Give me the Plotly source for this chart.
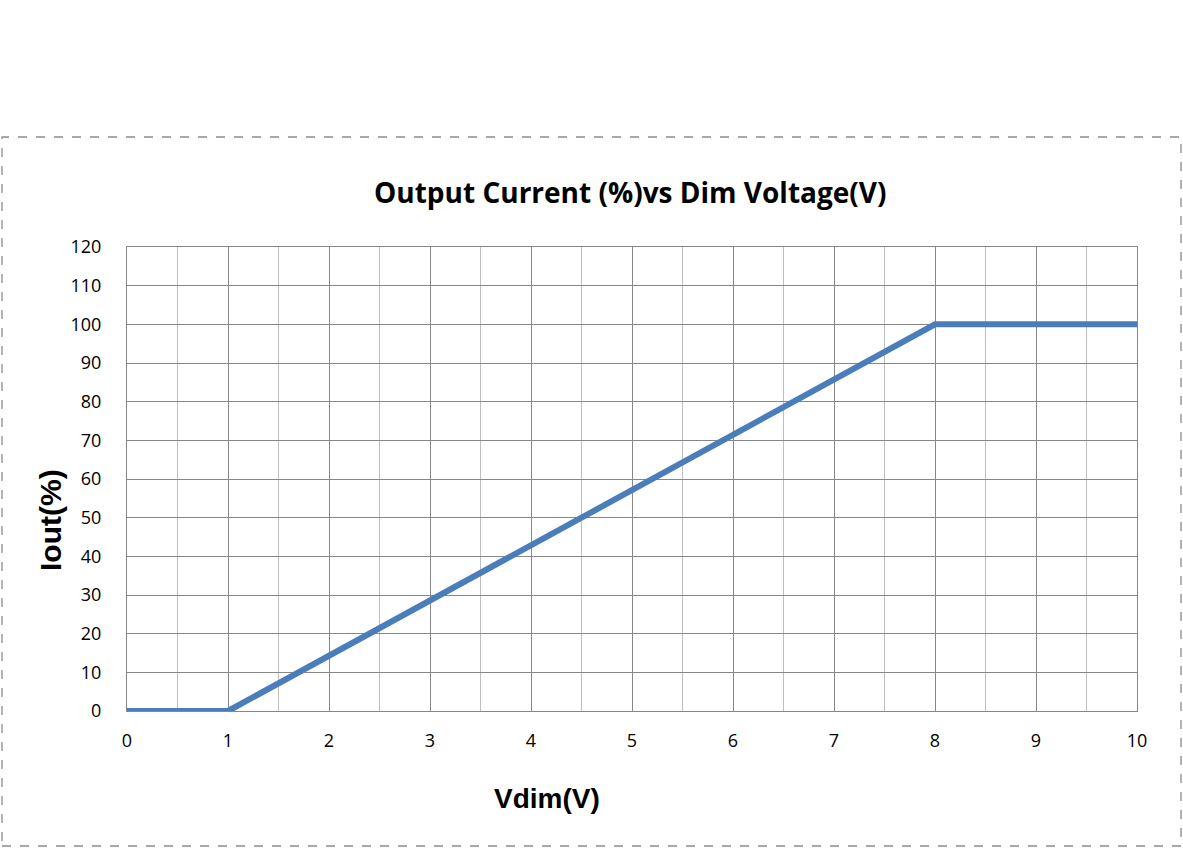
import plotly.graph_objects as go

# Dimming curve data
vdim = [0, 1, 8, 10]
iout = [0, 0, 100, 100]

x_ticks = list(range(0, 11))
y_ticks = list(range(0, 121, 10))

W, H = 1183, 848
L, R, T, B = 127, 46, 247, 137
pw, ph = W - L - R, H - T - B

fig = go.Figure()
fig.add_trace(go.Scatter(x=vdim, y=iout, mode='lines',
                         line=dict(color='#4A7EBB', width=6), showlegend=False))

def px(xp):
    return (xp - L) / pw

def py(yp):
    return (H - B - yp) / ph

# dashed frame around the chart
fig.add_shape(type='rect', xref='paper', yref='paper',
              x0=px(2), x1=px(1181), y0=py(846), y1=py(137),
              line=dict(color='#8C8C8C', width=1.3, dash='dash'), layer='below')

fig.add_annotation(text='<b>Output Current (%)vs Dim Voltage(V)</b>', xref='paper', yref='paper',
                   x=px(630), y=py(192), showarrow=False, xanchor='center', yanchor='middle',
                   font=dict(family='Open Sans', size=28, color='black'))
fig.add_annotation(text='<b>Iout(%)</b>', xref='paper', yref='paper',
                   x=px(50), y=py(520), showarrow=False, textangle=-90,
                   xanchor='center', yanchor='middle',
                   font=dict(family='Liberation Sans, Arial', size=30, color='black'))
fig.add_annotation(text='<b>Vdim(V)</b>', xref='paper', yref='paper',
                   x=px(547), y=py(798), showarrow=False, xanchor='center', yanchor='middle',
                   font=dict(family='Liberation Sans, Arial', size=28, color='black'))

fig.update_xaxes(range=[0, 10], tickvals=x_ticks, showgrid=True, gridcolor='#878787', gridwidth=1,
                 minor=dict(dtick=0.5, showgrid=True, gridcolor='#BFBFBF', gridwidth=1),
                 zeroline=False, showline=True, linecolor='#878787', mirror=True,
                 tickfont=dict(family='Open Sans', size=18, color='black'),
                 ticks='', ticklabelstandoff=13)
fig.update_yaxes(range=[0, 120], tickvals=y_ticks, showgrid=True, gridcolor='#878787', gridwidth=1,
                 zeroline=False, showline=True, linecolor='#878787', mirror=True,
                 tickfont=dict(family='Open Sans', size=18, color='black'),
                 ticks='', ticklabelstandoff=21)

fig.update_layout(width=W, height=H, margin=dict(l=L, r=R, t=T, b=B),
                  plot_bgcolor='white', paper_bgcolor='white')

fig.write_html("out.html", config={'displayModeBar': False},
               post_script="document.body.style.margin='0';")
